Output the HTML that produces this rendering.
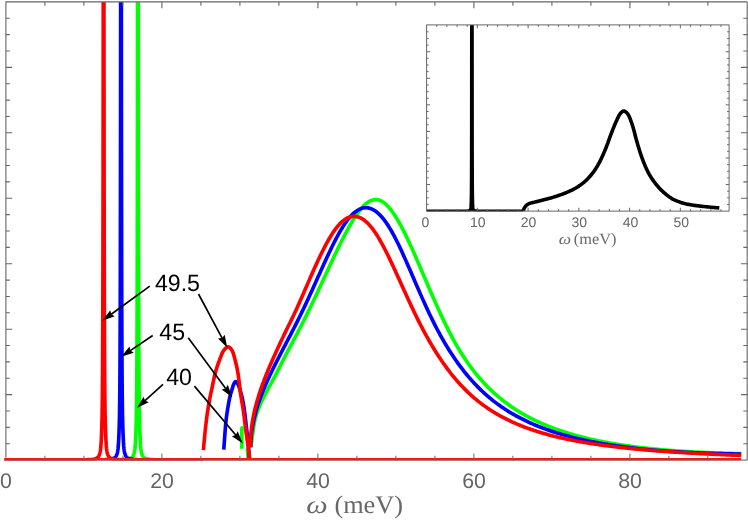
<!DOCTYPE html>
<html><head><meta charset="utf-8"><title>plot</title>
<style>
html,body{margin:0;padding:0;background:#ffffff;}
body{width:748px;height:524px;overflow:hidden;font-family:"Liberation Sans",sans-serif;}
#wrap{will-change:transform;width:748px;height:524px;}
svg{display:block;}
.t{filter:grayscale(1);}
</style></head>
<body>
<div id="wrap">
<svg width="748" height="524" viewBox="0 0 748 524" text-rendering="geometricPrecision">
<rect x="0" y="0" width="748" height="524" fill="#ffffff"/>
<defs><clipPath id="cm"><rect x="3.9" y="1.9" width="743.3" height="458.7"/></clipPath>
<clipPath id="cm2"><rect x="0" y="1.9" width="748" height="457.4"/></clipPath>
<clipPath id="ci"><rect x="426.6" y="24.9" width="302.6" height="186.6"/></clipPath></defs>
<g clip-path="url(#cm)" fill="none" stroke-width="3.65" stroke-linejoin="round" stroke-linecap="butt">
<path stroke="#00ff00" d="M121.9 459.63 L123.9 459.55 L125.9 459.41 L127.9 459.15 L129.9 458.63 L130.15 458.53 L130.4 458.43 L130.65 458.31 L130.9 458.17 L131.15 458.02 L131.4 457.86 L131.65 457.67 L131.9 457.45 L132.15 457.2 L132.4 456.93 L132.65 456.61 L132.9 456.25 L133.15 455.83 L133.4 455.34 L133.65 454.76 L133.9 454.07 L134.15 453.22 L134.4 452.15 L134.65 450.77 L134.9 448.95 L135.15 446.52 L135.4 443.25 L135.65 438.84 L135.9 432.93 L136.15 425.36 L136.4 415.23 L136.65 397.14 L136.7 392.01 L136.72 389.77 L136.74 387.41 L136.76 384.93 L136.78 382.32 L136.8 379.57 L136.82 376.68 L136.84 373.63 L136.86 370.41 L136.88 367.03 L136.9 363.46 L136.92 359.71 L136.94 355.75 L136.96 351.58 L136.98 347.19 L137 342.57 L137.02 337.71 L137.04 332.6 L137.06 327.23 L137.08 321.6 L137.1 315.7 L137.12 309.52 L137.14 303.08 L137.16 296.34 L137.18 289.19 L137.2 281.57 L137.22 273.45 L137.24 264.78 L137.26 255.51 L137.28 245.59 L137.3 234.96 L137.32 223.54 L137.34 211.27 L137.36 198.06 L137.38 183.81 L137.4 168.44 L137.42 151.81 L137.44 133.8 L137.46 114.26 L137.48 93.04 L137.5 69.96 L137.52 44.81 L137.54 17.39 L137.56 -15.9 L137.58 -20 L137.6 -20 L137.62 -20 L137.64 -20 L137.66 -20 L137.68 -20 L137.7 -20 L137.72 -20 L137.74 -20 L137.76 -20 L137.78 -20 L137.8 -20 L137.82 -20 L137.84 -20 L137.86 -20 L137.88 -20 L137.9 -20 L137.92 -20 L137.94 -20 L137.96 -20 L137.98 -20 L138 -20 L138.02 -20 L138.04 -20 L138.06 -20 L138.08 -20 L138.1 -20 L138.12 -20 L138.14 -20 L138.16 -20 L138.18 -20 L138.2 -20 L138.22 -20 L138.24 -15.9 L138.26 17.39 L138.28 44.81 L138.3 69.96 L138.32 93.04 L138.34 114.26 L138.36 133.8 L138.38 151.81 L138.4 168.44 L138.42 183.81 L138.44 198.06 L138.46 211.27 L138.48 223.54 L138.5 234.96 L138.52 245.59 L138.54 255.51 L138.56 264.78 L138.58 273.45 L138.6 281.57 L138.62 289.19 L138.64 296.34 L138.66 303.08 L138.68 309.52 L138.7 315.7 L138.72 321.6 L138.74 327.23 L138.76 332.6 L138.78 337.71 L138.8 342.57 L138.82 347.19 L138.84 351.58 L138.86 355.75 L138.88 359.71 L138.9 363.46 L138.92 367.03 L138.94 370.41 L138.96 373.63 L138.98 376.68 L139 379.57 L139.02 382.32 L139.04 384.93 L139.06 387.41 L139.08 389.77 L139.1 392.01 L139.35 412.41 L139.6 423.73 L139.85 431.54 L140.1 437.79 L140.35 442.47 L140.6 445.94 L140.85 448.52 L141.1 450.45 L141.35 451.9 L141.6 453.02 L141.85 453.91 L142.1 454.64 L142.35 455.24 L142.6 455.74 L142.85 456.17 L143.1 456.54 L143.35 456.87 L143.6 457.15 L143.85 457.4 L144.1 457.63 L144.35 457.82 L144.6 457.99 L144.85 458.14 L145.1 458.28 L145.35 458.4 L145.6 458.51 L145.85 458.61 L145.9 458.63 L147.9 459.15 L149.9 459.41 L151.9 459.55 L153.9 459.63" clip-path="url(#cm2)"/>
<path stroke="#00ff00" d="M241.85 448.8 L241.85 447.72 L241.85 446.64 L241.85 445.56 L241.85 444.48 L241.85 443.41 L241.85 442.33 L241.85 441.25 L241.85 440.17 L241.85 439.09 L241.85 438.01 L241.85 436.93 L241.85 435.85 L241.85 434.77 L241.86 433.69 L241.87 432.62 L241.87 431.54 L241.88 430.46 L241.89 429.38 L241.9 428.3"/>
<circle cx="241.95" cy="427.9" r="1.82" fill="#00ff00" stroke="none"/>
<path stroke="#00ff00" d="M247.3 448.5 L247.42 449.71 L247.53 450.92 L247.64 452.13 L247.75 453.34 L247.84 454.55 L247.94 455.76 L248.03 456.98 L248.12 458.19 L248.2 459.4"/>
<path stroke="#00ff00" d="M250.8 447.24 L250.89 446.73 L250.96 446.22 L251.04 445.71 L251.12 445.2 L251.19 444.69 L251.27 444.18 L251.34 443.67 L251.41 443.16 L251.48 442.66 L251.55 442.15 L251.62 441.65 L251.69 441.14 L251.75 440.64 L251.82 440.13 L251.89 439.63 L251.95 439.13 L252.02 438.63 L252.08 438.12 L252.15 437.62 L252.21 437.12 L252.28 436.63 L252.34 436.13 L252.4 435.63 L252.47 435.13 L252.53 434.63 L252.6 434.14 L252.67 433.64 L252.73 433.15 L252.8 432.65 L252.87 432.16 L252.93 431.67 L253 431.18 L253.07 430.68 L253.14 430.19 L253.22 429.7 L253.29 429.21 L253.36 428.72 L253.44 428.23 L253.51 427.75 L253.59 427.26 L253.67 426.77 L253.75 426.28 L253.84 425.8 L253.92 425.31 L254.01 424.83 L254.09 424.35 L254.18 423.86 L254.28 423.38 L254.37 422.9 L254.47 422.41 L254.56 421.93 L254.67 421.45 L254.77 420.97 L254.87 420.49 L254.98 420.01 L255.09 419.54 L255.21 419.06 L255.32 418.58 L255.44 418.1 L255.56 417.63 L255.69 417.15 L255.82 416.68 L255.95 416.2 L256.08 415.73 L256.22 415.25 L256.36 414.78 L256.51 414.31 L256.65 413.84 L256.8 413.37 L256.96 412.89 L257.11 412.42 L257.27 411.95 L257.43 411.48 L257.6 411.02 L257.77 410.55 L257.94 410.08 L258.11 409.61 L258.29 409.14 L258.46 408.68 L258.65 408.21 L258.83 407.75 L259.02 407.28 L259.2 406.82 L259.39 406.35 L259.59 405.89 L259.78 405.43 L259.98 404.96 L260.18 404.5 L260.38 404.04 L260.59 403.58 L260.79 403.12 L261 402.66 L261.21 402.2 L261.42 401.74 L261.64 401.28 L261.85 400.82 L262.07 400.37 L262.29 399.91 L262.51 399.45 L262.74 399 L262.96 398.54 L263.19 398.08 L263.41 397.63 L263.64 397.17 L263.87 396.72 L264.1 396.27 L264.34 395.81 L264.57 395.36 L264.8 394.91 L265.04 394.45 L265.28 394 L265.51 393.55 L265.75 393.1 L265.99 392.65 L266.23 392.2 L266.48 391.75 L266.72 391.3 L266.96 390.85 L267.2 390.4 L267.45 389.95 L267.69 389.5 L267.94 389.05 L268.18 388.61 L268.43 388.16 L268.67 387.71 L268.92 387.26 L269.17 386.82 L269.41 386.37 L269.66 385.92 L269.9 385.48 L270.15 385.03 L270.4 384.59 L270.64 384.14 L270.89 383.7 L271.13 383.25 L271.38 382.81 L271.62 382.37 L271.87 381.92 L272.11 381.48 L272.36 381.03 L272.6 380.59 L272.84 380.15 L273.08 379.71 L273.32 379.26 L273.56 378.82 L273.8 378.38 L274.04 377.94 L274.28 377.49 L274.51 377.05 L274.75 376.61 L274.98 376.17 L275.21 375.73 L275.45 375.29 L275.68 374.85 L275.91 374.41 L276.14 373.97 L276.37 373.53 L276.59 373.09 L276.82 372.64 L277.05 372.2 L277.27 371.76 L277.5 371.32 L277.72 370.88 L277.95 370.45 L278.17 370.01 L278.39 369.57 L278.61 369.13 L278.84 368.69 L279.06 368.25 L279.28 367.81 L279.5 367.37 L279.72 366.93 L279.94 366.49 L280.16 366.05 L280.38 365.61 L280.6 365.17 L280.82 364.73 L281.04 364.29 L281.26 363.85 L281.48 363.42 L281.7 362.98 L281.92 362.54 L282.14 362.1 L282.36 361.66 L282.58 361.22 L282.8 360.78 L283.02 360.34 L283.24 359.9 L283.46 359.46 L283.68 359.02 L283.9 358.58 L284.13 358.14 L284.35 357.7 L284.57 357.26 L284.8 356.82 L285 356.42 L286 354.49 L287 352.59 L288 350.7 L289 348.83 L290 346.95 L291 345.09 L292 343.22 L293 341.35 L294 339.47 L295 337.58 L296 335.68 L297 333.78 L298 331.86 L299 329.92 L300 327.98 L301 326.02 L302 324.05 L303 322.06 L304 320.07 L305 318.06 L306 316.07 L307 314.08 L308 312.07 L309 310.05 L310 308.01 L311 305.96 L312 303.89 L313 301.81 L314 299.72 L315 297.62 L316 295.5 L317 293.38 L318 291.24 L319 289.1 L320 286.95 L321 284.79 L322 282.63 L323 280.47 L324 278.3 L325 276.13 L326 273.96 L327 271.79 L328 269.63 L329 267.46 L330 265.31 L331 263.15 L332 261.01 L333 258.88 L334 256.75 L335 254.64 L336 252.54 L337 250.45 L338 248.38 L339 246.32 L340 244.29 L341 242.27 L342 240.27 L343 238.3 L344 236.35 L345 234.42 L346 232.52 L347 230.65 L348 228.81 L349 227 L350 225.23 L351 223.5 L352 221.8 L353 220.15 L354 218.55 L355 216.99 L356 215.48 L357 214.03 L358 212.63 L359 211.29 L360 210 L361 208.78 L362 207.63 L363 206.54 L364 205.53 L365 204.58 L366 203.71 L367 202.92 L368 202.2 L369 201.57 L370 201.02 L371 200.56 L372 200.18 L373 199.89 L374 199.69 L375 199.59 L376 199.58 L377 199.66 L378 199.84 L379 200.11 L380 200.47 L381 200.93 L382 201.47 L383 202.09 L384 202.81 L385 203.6 L386 204.48 L387 205.43 L388 206.46 L389 207.57 L390 208.75 L391 210 L392 211.32 L393 212.7 L394 214.15 L395 215.66 L396 217.23 L397 218.86 L398 220.54 L399 222.28 L400 224.06 L401 225.9 L402 227.77 L403 229.7 L404 231.66 L405 233.66 L406 235.7 L407 237.77 L408 239.87 L409 242.01 L410 244.17 L411 246.36 L412 248.57 L413 250.8 L414 253.05 L415 255.32 L416 257.6 L417 259.9 L418 262.21 L419 264.53 L420 266.85 L421 269.19 L422 271.52 L423 273.86 L424 276.2 L425 278.54 L426 280.88 L427 283.22 L428 285.55 L429 287.88 L430 290.19 L431 292.5 L432 294.8 L433 297.09 L434 299.37 L435 301.63 L436 303.88 L437 306.12 L438 308.34 L439 310.54 L440 312.72 L441 314.88 L442 317.02 L443 319.14 L444 321.23 L445 323.3 L446 325.35 L447 327.37 L448 329.36 L449 331.33 L450 333.27 L451 335.18 L452 337.07 L453 338.92 L454 340.74 L455 342.54 L456 344.3 L457 346.04 L458 347.74 L459 349.41 L460 351.06 L461 352.67 L462 354.26 L463 355.82 L464 357.35 L465 358.86 L466 360.33 L467 361.79 L468 363.21 L469 364.62 L470 366 L471 367.35 L472 368.68 L473 369.99 L474 371.28 L475 372.54 L476 373.79 L477 375.01 L478 376.21 L479 377.39 L480 378.55 L481 379.69 L482 380.82 L483 381.92 L484 383 L485 384.07 L486 385.12 L487 386.15 L488 387.17 L489 388.16 L490 389.14 L491 390.11 L492 391.06 L493 391.99 L494 392.91 L495 393.81 L496 394.7 L497 395.57 L498 396.43 L499 397.28 L500 398.11 L501 398.93 L502 399.74 L503 400.53 L504 401.31 L505 402.08 L506 402.83 L507 403.58 L508 404.31 L509 405.03 L510 405.74 L511 406.44 L512 407.13 L513 407.8 L514 408.47 L515 409.12 L516 409.77 L517 410.41 L518 411.03 L519 411.65 L520 412.26 L521 412.86 L522 413.45 L523 414.03 L524 414.6 L525 415.16 L526 415.72 L527 416.26 L528 416.8 L529 417.33 L530 417.86 L531 418.37 L532 418.88 L533 419.38 L534 419.87 L535 420.36 L536 420.84 L537 421.31 L538 421.78 L539 422.23 L540 422.69 L541 423.13 L542 423.57 L543 424 L544 424.43 L545 424.85 L546 425.27 L547 425.68 L548 426.08 L549 426.48 L550 426.87 L551 427.26 L552 427.64 L553 428.02 L554 428.39 L555 428.76 L556 429.12 L557 429.47 L558 429.83 L559 430.17 L560 430.52 L561 430.85 L562 431.19 L563 431.52 L564 431.84 L565 432.16 L566 432.48 L567 432.79 L568 433.1 L569 433.4 L570 433.7 L571 434 L572 434.29 L573 434.58 L574 434.86 L575 435.14 L576 435.42 L577 435.69 L578 435.97 L579 436.23 L580 436.5 L581 436.76 L582 437.01 L583 437.27 L584 437.52 L585 437.77 L586 438.01 L587 438.25 L588 438.49 L589 438.73 L590 438.96 L591 439.19 L592 439.41 L593 439.64 L594 439.86 L595 440.08 L596 440.29 L597 440.51 L598 440.72 L599 440.92 L600 441.13 L601 441.33 L602 441.53 L603 441.73 L604 441.92 L605 442.11 L606 442.3 L607 442.49 L608 442.67 L609 442.86 L610 443.04 L611 443.21 L612 443.39 L613 443.56 L614 443.73 L615 443.9 L616 444.07 L617 444.23 L618 444.39 L619 444.55 L620 444.71 L621 444.87 L622 445.02 L623 445.17 L624 445.32 L625 445.47 L626 445.61 L627 445.76 L628 445.9 L629 446.04 L630 446.18 L631 446.31 L632 446.45 L633 446.58 L634 446.71 L635 446.84 L636 446.97 L637 447.09 L638 447.21 L639 447.34 L640 447.46 L641 447.58 L642 447.69 L643 447.81 L644 447.92 L645 448.03 L646 448.14 L647 448.25 L648 448.36 L649 448.47 L650 448.57 L651 448.68 L652 448.78 L653 448.88 L654 448.98 L655 449.07 L656 449.17 L657 449.27 L658 449.36 L659 449.45 L660 449.54 L661 449.63 L662 449.72 L663 449.81 L664 449.89 L665 449.98 L666 450.06 L667 450.14 L668 450.22 L669 450.3 L670 450.38 L671 450.46 L672 450.54 L673 450.61 L674 450.69 L675 450.76 L676 450.83 L677 450.9 L678 450.97 L679 451.04 L680 451.11 L681 451.17 L682 451.24 L683 451.31 L684 451.37 L685 451.43 L686 451.49 L687 451.55 L688 451.61 L689 451.67 L690 451.73 L691 451.79 L692 451.84 L693 451.9 L694 451.95 L695 452.01 L696 452.06 L697 452.11 L698 452.16 L699 452.21 L700 452.26 L701 452.31 L702 452.36 L703 452.41 L704 452.45 L705 452.5 L706 452.54 L707 452.59 L708 452.63 L709 452.67 L710 452.71 L711 452.75 L712 452.79 L713 452.83 L714 452.87 L715 452.91 L716 452.95 L717 452.98 L718 453.02 L719 453.06 L720 453.09 L721 453.12 L722 453.16 L723 453.19 L724 453.22 L725 453.25 L726 453.28 L727 453.31 L728 453.34 L729 453.37 L730 453.4 L731 453.43 L732 453.45 L733 453.48 L734 453.5 L735 453.53 L736 453.55 L737 453.58 L738 453.6 L739 453.62 L740 453.64 L741 453.66 L741.2 453.67"/>
<path stroke="#0000ff" d="M105 459.63 L107 459.55 L109 459.41 L111 459.15 L113 458.63 L113.25 458.53 L113.5 458.43 L113.75 458.31 L114 458.17 L114.25 458.02 L114.5 457.86 L114.75 457.67 L115 457.45 L115.25 457.2 L115.5 456.93 L115.75 456.61 L116 456.25 L116.25 455.83 L116.5 455.34 L116.75 454.76 L117 454.07 L117.25 453.22 L117.5 452.15 L117.75 450.77 L118 448.95 L118.25 446.52 L118.5 443.25 L118.75 438.84 L119 432.93 L119.25 425.36 L119.5 415.23 L119.75 397.14 L119.8 392.01 L119.82 389.77 L119.84 387.41 L119.86 384.93 L119.88 382.32 L119.9 379.57 L119.92 376.68 L119.94 373.63 L119.96 370.41 L119.98 367.03 L120 363.46 L120.02 359.71 L120.04 355.75 L120.06 351.58 L120.08 347.19 L120.1 342.57 L120.12 337.71 L120.14 332.6 L120.16 327.23 L120.18 321.6 L120.2 315.7 L120.22 309.52 L120.24 303.08 L120.26 296.34 L120.28 289.19 L120.3 281.57 L120.32 273.45 L120.34 264.78 L120.36 255.51 L120.38 245.59 L120.4 234.96 L120.42 223.54 L120.44 211.27 L120.46 198.06 L120.48 183.81 L120.5 168.44 L120.52 151.81 L120.54 133.8 L120.56 114.26 L120.58 93.04 L120.6 69.96 L120.62 44.81 L120.64 17.39 L120.66 -15.9 L120.68 -20 L120.7 -20 L120.72 -20 L120.74 -20 L120.76 -20 L120.78 -20 L120.8 -20 L120.82 -20 L120.84 -20 L120.86 -20 L120.88 -20 L120.9 -20 L120.92 -20 L120.94 -20 L120.96 -20 L120.98 -20 L121 -20 L121.02 -20 L121.04 -20 L121.06 -20 L121.08 -20 L121.1 -20 L121.12 -20 L121.14 -20 L121.16 -20 L121.18 -20 L121.2 -20 L121.22 -20 L121.24 -20 L121.26 -20 L121.28 -20 L121.3 -20 L121.32 -20 L121.34 -15.9 L121.36 17.39 L121.38 44.81 L121.4 69.96 L121.42 93.04 L121.44 114.26 L121.46 133.8 L121.48 151.81 L121.5 168.44 L121.52 183.81 L121.54 198.06 L121.56 211.27 L121.58 223.54 L121.6 234.96 L121.62 245.59 L121.64 255.51 L121.66 264.78 L121.68 273.45 L121.7 281.57 L121.72 289.19 L121.74 296.34 L121.76 303.08 L121.78 309.52 L121.8 315.7 L121.82 321.6 L121.84 327.23 L121.86 332.6 L121.88 337.71 L121.9 342.57 L121.92 347.19 L121.94 351.58 L121.96 355.75 L121.98 359.71 L122 363.46 L122.02 367.03 L122.04 370.41 L122.06 373.63 L122.08 376.68 L122.1 379.57 L122.12 382.32 L122.14 384.93 L122.16 387.41 L122.18 389.77 L122.2 392.01 L122.2 392.01 L122.45 412.41 L122.7 423.73 L122.95 431.54 L123.2 437.79 L123.45 442.47 L123.7 445.94 L123.95 448.52 L124.2 450.45 L124.45 451.9 L124.7 453.02 L124.95 453.91 L125.2 454.64 L125.45 455.24 L125.7 455.74 L125.95 456.17 L126.2 456.54 L126.45 456.87 L126.7 457.15 L126.95 457.4 L127.2 457.63 L127.45 457.82 L127.7 457.99 L127.95 458.14 L128.2 458.28 L128.45 458.4 L128.7 458.51 L128.95 458.61 L129 458.63 L131 459.15 L133 459.41 L135 459.55 L137 459.63" clip-path="url(#cm2)"/>
<path stroke="#0000ff" d="M223.8 449.6 L223.86 448.59 L223.93 447.58 L224 446.58 L224.06 445.57 L224.13 444.56 L224.2 443.55 L224.27 442.55 L224.34 441.54 L224.41 440.53 L224.49 439.52 L224.56 438.52 L224.64 437.51 L224.71 436.5 L224.79 435.5 L224.86 434.49 L224.94 433.48 L225.01 432.47 L225.09 431.46 L225.17 430.46 L225.24 429.45 L225.33 428.44 L225.41 427.44 L225.49 426.43 L225.58 425.42 L225.67 424.42 L225.76 423.41 L225.86 422.41 L225.96 421.4 L226.07 420.4 L226.18 419.4 L226.29 418.4 L226.42 417.39 L226.55 416.39 L226.68 415.39 L226.82 414.39 L226.96 413.39 L227.11 412.39 L227.27 411.39 L227.43 410.39 L227.59 409.4 L227.75 408.4 L227.92 407.4 L228.09 406.41 L228.26 405.41 L228.43 404.41 L228.61 403.42 L228.78 402.43 L228.97 401.43 L229.16 400.44 L229.35 399.45 L229.56 398.46 L229.78 397.47 L230 396.49 L230.24 395.51 L230.5 394.54 L230.77 393.56 L231.06 392.59 L231.35 391.62 L231.65 390.66 L231.95 389.69 L232.24 388.73 L232.53 387.74 L232.81 386.75 L233.12 385.77 L233.45 384.82 L233.84 383.92 L234.33 382.99 L234.98 382 L235.67 381.5 L236.42 381.92 L237.15 382.83 L237.68 383.67 L238.13 384.53 L238.53 385.44 L238.89 386.4 L239.23 387.38 L239.54 388.37 L239.84 389.36 L240.13 390.35 L240.43 391.31 L240.72 392.28 L241.01 393.25 L241.28 394.22 L241.55 395.2 L241.81 396.18 L242.06 397.16 L242.29 398.14 L242.51 399.13 L242.72 400.11 L242.92 401.1 L243.1 402.09 L243.28 403.08 L243.44 404.08 L243.61 405.08 L243.76 406.08 L243.91 407.08 L244.06 408.08 L244.2 409.08 L244.34 410.08 L244.47 411.08 L244.61 412.08 L244.75 413.08 L244.88 414.08 L245 415.08 L245.13 416.09 L245.25 417.09 L245.37 418.09 L245.49 419.1 L245.61 420.1 L245.72 421.1 L245.84 422.11 L245.95 423.11 L246.06 424.11 L246.18 425.12 L246.29 426.12 L246.4 427.12 L246.51 428.13 L246.63 429.13 L246.74 430.14 L246.85 431.14 L246.97 432.14 L247.08 433.15 L247.19 434.15 L247.3 435.15 L247.41 436.16 L247.52 437.16 L247.62 438.17 L247.73 439.17 L247.83 440.18 L247.92 441.18 L248.02 442.19 L248.11 443.19 L248.2 444.2 L248.29 445.2 L248.38 446.21 L248.47 447.22 L248.55 448.22 L248.64 449.23 L248.72 450.23 L248.8 451.24 L248.89 452.25 L248.96 453.25 L249.04 454.26 L249.12 455.27 L249.19 456.28 L249.26 457.28 L249.33 458.29 L249.4 459.3"/>
<path stroke="#0000ff" d="M250.65 447.21 L250.66 446.7 L250.67 446.19 L250.68 445.68 L250.69 445.17 L250.71 444.66 L250.72 444.16 L250.74 443.65 L250.76 443.14 L250.79 442.64 L250.81 442.13 L250.84 441.62 L250.87 441.12 L250.9 440.62 L250.93 440.11 L250.97 439.61 L251.01 439.11 L251.04 438.6 L251.09 438.1 L251.13 437.6 L251.17 437.1 L251.22 436.6 L251.27 436.1 L251.32 435.6 L251.37 435.1 L251.42 434.6 L251.48 434.11 L251.54 433.61 L251.6 433.11 L251.66 432.61 L251.72 432.12 L251.79 431.62 L251.85 431.13 L251.92 430.63 L251.99 430.14 L252.06 429.65 L252.14 429.15 L252.21 428.66 L252.29 428.17 L252.37 427.68 L252.45 427.18 L252.53 426.69 L252.62 426.2 L252.7 425.71 L252.79 425.22 L252.88 424.73 L252.97 424.24 L253.06 423.75 L253.16 423.27 L253.25 422.78 L253.35 422.29 L253.45 421.81 L253.55 421.32 L253.65 420.83 L253.76 420.35 L253.86 419.86 L253.97 419.38 L254.08 418.89 L254.19 418.41 L254.3 417.93 L254.42 417.44 L254.53 416.96 L254.65 416.48 L254.77 415.99 L254.88 415.51 L255.01 415.03 L255.13 414.55 L255.25 414.07 L255.38 413.59 L255.51 413.11 L255.63 412.63 L255.76 412.15 L255.9 411.67 L256.03 411.2 L256.16 410.72 L256.3 410.24 L256.44 409.76 L256.58 409.29 L256.72 408.81 L256.86 408.33 L257 407.86 L257.14 407.38 L257.29 406.91 L257.44 406.43 L257.59 405.96 L257.73 405.49 L257.89 405.01 L258.04 404.54 L258.19 404.07 L258.35 403.59 L258.5 403.12 L258.66 402.65 L258.82 402.18 L258.98 401.71 L259.14 401.24 L259.3 400.77 L259.47 400.3 L259.63 399.83 L259.8 399.36 L259.97 398.89 L260.14 398.42 L260.31 397.95 L260.48 397.48 L260.65 397.01 L260.82 396.55 L261 396.08 L261.18 395.61 L261.35 395.14 L261.53 394.68 L261.71 394.21 L261.89 393.75 L262.07 393.28 L262.26 392.81 L262.44 392.35 L262.62 391.88 L262.81 391.42 L263 390.96 L263.18 390.49 L263.37 390.03 L263.56 389.57 L263.75 389.1 L263.95 388.64 L264.14 388.18 L264.33 387.71 L264.53 387.25 L264.72 386.79 L264.92 386.33 L265.12 385.87 L265.31 385.41 L265.51 384.95 L265.71 384.49 L265.91 384.03 L266.12 383.57 L266.32 383.11 L266.52 382.65 L266.72 382.19 L266.93 381.73 L267.14 381.27 L267.34 380.81 L267.55 380.35 L267.76 379.9 L267.97 379.44 L268.18 378.98 L268.39 378.52 L268.6 378.07 L268.81 377.61 L269.02 377.15 L269.23 376.7 L269.45 376.24 L269.66 375.78 L269.87 375.33 L270.09 374.87 L270.31 374.42 L270.52 373.96 L270.74 373.51 L270.96 373.05 L271.18 372.6 L271.39 372.14 L271.61 371.69 L271.83 371.23 L272.05 370.78 L272.28 370.33 L272.5 369.87 L272.72 369.42 L272.94 368.97 L273.16 368.51 L273.39 368.06 L273.61 367.61 L273.83 367.16 L274.06 366.7 L274.28 366.25 L274.51 365.8 L274.74 365.35 L274.96 364.9 L275.19 364.45 L275.41 363.99 L275.64 363.54 L275.87 363.09 L276.1 362.64 L276.32 362.19 L276.55 361.74 L276.78 361.29 L277.01 360.84 L277.24 360.39 L277.47 359.94 L277.7 359.49 L277.93 359.04 L278.16 358.59 L278.39 358.14 L278.62 357.69 L278.85 357.24 L279.08 356.79 L279.31 356.35 L279.54 355.9 L279.77 355.45 L280 355 L280.23 354.55 L280.46 354.1 L280.69 353.66 L280.93 353.21 L281.16 352.76 L281.39 352.31 L281.62 351.86 L281.85 351.42 L282.08 350.97 L282.31 350.52 L282.55 350.07 L282.78 349.63 L283.01 349.18 L283.24 348.73 L283.47 348.29 L283.7 347.84 L283.94 347.39 L284.17 346.95 L284.4 346.5 L284.63 346.05 L284.86 345.61 L285 345.34 L286 343.42 L287 341.51 L288 339.6 L289 337.69 L290 335.78 L291 333.85 L292 331.93 L293 329.99 L294 328.03 L295 326.07 L296 324.09 L297 322.09 L298 320.08 L299 318.05 L300 316.01 L301 313.95 L302 311.88 L303 309.8 L304 307.71 L305 305.6 L306 303.47 L307 301.32 L308 299.16 L309 296.99 L310 294.81 L311 292.62 L312 290.42 L313 288.22 L314 286.01 L315 283.79 L316 281.57 L317 279.34 L318 277.11 L319 274.89 L320 272.66 L321 270.44 L322 268.22 L323 266.01 L324 263.81 L325 261.62 L326 259.45 L327 257.29 L328 255.14 L329 253.02 L330 250.91 L331 248.84 L332 246.78 L333 244.76 L334 242.76 L335 240.8 L336 238.88 L337 236.99 L338 235.14 L339 233.34 L340 231.58 L341 229.87 L342 228.21 L343 226.6 L344 225.05 L345 223.55 L346 222.12 L347 220.75 L348 219.44 L349 218.19 L350 217.02 L351 215.9 L352 214.86 L353 213.88 L354 212.98 L355 212.14 L356 211.38 L357 210.68 L358 210.06 L359 209.51 L360 209.04 L361 208.64 L362 208.31 L363 208.05 L364 207.87 L365 207.77 L366 207.74 L367 207.79 L368 207.91 L369 208.1 L370 208.37 L371 208.71 L372 209.13 L373 209.62 L374 210.19 L375 210.82 L376 211.53 L377 212.31 L378 213.16 L379 214.09 L380 215.08 L381 216.14 L382 217.26 L383 218.46 L384 219.71 L385 221.04 L386 222.42 L387 223.87 L388 225.38 L389 226.95 L390 228.58 L391 230.26 L392 232 L393 233.8 L394 235.64 L395 237.54 L396 239.49 L397 241.47 L398 243.5 L399 245.57 L400 247.68 L401 249.81 L402 251.98 L403 254.17 L404 256.38 L405 258.62 L406 260.88 L407 263.15 L408 265.43 L409 267.73 L410 270.04 L411 272.35 L412 274.67 L413 276.98 L414 279.3 L415 281.62 L416 283.93 L417 286.24 L418 288.54 L419 290.83 L420 293.11 L421 295.38 L422 297.63 L423 299.87 L424 302.09 L425 304.29 L426 306.48 L427 308.64 L428 310.79 L429 312.91 L430 315.01 L431 317.08 L432 319.13 L433 321.15 L434 323.15 L435 325.12 L436 327.06 L437 328.98 L438 330.87 L439 332.73 L440 334.56 L441 336.37 L442 338.15 L443 339.91 L444 341.64 L445 343.34 L446 345.02 L447 346.68 L448 348.31 L449 349.91 L450 351.49 L451 353.05 L452 354.59 L453 356.1 L454 357.59 L455 359.05 L456 360.49 L457 361.92 L458 363.32 L459 364.69 L460 366.05 L461 367.39 L462 368.7 L463 369.99 L464 371.27 L465 372.52 L466 373.76 L467 374.97 L468 376.17 L469 377.35 L470 378.5 L471 379.64 L472 380.77 L473 381.87 L474 382.96 L475 384.03 L476 385.08 L477 386.11 L478 387.13 L479 388.13 L480 389.12 L481 390.09 L482 391.04 L483 391.98 L484 392.9 L485 393.81 L486 394.7 L487 395.58 L488 396.44 L489 397.29 L490 398.13 L491 398.95 L492 399.76 L493 400.56 L494 401.34 L495 402.11 L496 402.87 L497 403.62 L498 404.35 L499 405.08 L500 405.79 L501 406.49 L502 407.18 L503 407.86 L504 408.53 L505 409.19 L506 409.84 L507 410.48 L508 411.11 L509 411.73 L510 412.34 L511 412.94 L512 413.53 L513 414.11 L514 414.69 L515 415.25 L516 415.81 L517 416.36 L518 416.9 L519 417.43 L520 417.96 L521 418.48 L522 418.99 L523 419.49 L524 419.98 L525 420.47 L526 420.95 L527 421.42 L528 421.89 L529 422.35 L530 422.81 L531 423.25 L532 423.69 L533 424.13 L534 424.56 L535 424.98 L536 425.4 L537 425.81 L538 426.21 L539 426.61 L540 427 L541 427.39 L542 427.78 L543 428.15 L544 428.53 L545 428.89 L546 429.26 L547 429.61 L548 429.97 L549 430.31 L550 430.66 L551 430.99 L552 431.33 L553 431.66 L554 431.98 L555 432.3 L556 432.62 L557 432.93 L558 433.24 L559 433.55 L560 433.85 L561 434.14 L562 434.44 L563 434.72 L564 435.01 L565 435.29 L566 435.57 L567 435.84 L568 436.11 L569 436.38 L570 436.64 L571 436.91 L572 437.16 L573 437.42 L574 437.67 L575 437.92 L576 438.16 L577 438.4 L578 438.64 L579 438.88 L580 439.11 L581 439.34 L582 439.56 L583 439.79 L584 440.01 L585 440.23 L586 440.45 L587 440.66 L588 440.87 L589 441.08 L590 441.28 L591 441.49 L592 441.69 L593 441.89 L594 442.08 L595 442.28 L596 442.47 L597 442.66 L598 442.84 L599 443.03 L600 443.21 L601 443.39 L602 443.56 L603 443.74 L604 443.91 L605 444.08 L606 444.25 L607 444.41 L608 444.58 L609 444.74 L610 444.9 L611 445.06 L612 445.21 L613 445.36 L614 445.52 L615 445.67 L616 445.81 L617 445.96 L618 446.1 L619 446.24 L620 446.38 L621 446.52 L622 446.66 L623 446.79 L624 446.92 L625 447.05 L626 447.18 L627 447.31 L628 447.43 L629 447.56 L630 447.68 L631 447.8 L632 447.92 L633 448.03 L634 448.15 L635 448.26 L636 448.38 L637 448.49 L638 448.6 L639 448.7 L640 448.81 L641 448.91 L642 449.02 L643 449.12 L644 449.22 L645 449.32 L646 449.41 L647 449.51 L648 449.6 L649 449.7 L650 449.79 L651 449.88 L652 449.97 L653 450.06 L654 450.14 L655 450.23 L656 450.31 L657 450.4 L658 450.48 L659 450.56 L660 450.64 L661 450.72 L662 450.79 L663 450.87 L664 450.94 L665 451.02 L666 451.09 L667 451.16 L668 451.23 L669 451.3 L670 451.37 L671 451.43 L672 451.5 L673 451.57 L674 451.63 L675 451.69 L676 451.75 L677 451.81 L678 451.87 L679 451.93 L680 451.99 L681 452.05 L682 452.1 L683 452.16 L684 452.21 L685 452.27 L686 452.32 L687 452.37 L688 452.42 L689 452.47 L690 452.52 L691 452.57 L692 452.62 L693 452.66 L694 452.71 L695 452.75 L696 452.8 L697 452.84 L698 452.88 L699 452.92 L700 452.97 L701 453.01 L702 453.04 L703 453.08 L704 453.12 L705 453.16 L706 453.19 L707 453.23 L708 453.26 L709 453.3 L710 453.33 L711 453.36 L712 453.4 L713 453.43 L714 453.46 L715 453.49 L716 453.52 L717 453.55 L718 453.57 L719 453.6 L720 453.63 L721 453.65 L722 453.68 L723 453.7 L724 453.73 L725 453.75 L726 453.77 L727 453.79 L728 453.82 L729 453.84 L730 453.86 L731 453.88 L732 453.9 L733 453.91 L734 453.93 L735 453.95 L736 453.96 L737 453.98 L738 453.99 L739 454.01 L740 454.02 L741 454.04 L741.2 454.04"/>
<path stroke="#ff0000" d="M4.4 459.75 L6.4 459.75 L8.4 459.75 L10.4 459.75 L12.4 459.75 L14.4 459.75 L16.4 459.75 L18.4 459.75 L20.4 459.75 L22.4 459.75 L24.4 459.75 L26.4 459.75 L28.4 459.75 L30.4 459.75 L32.4 459.75 L34.4 459.75 L36.4 459.75 L38.4 459.75 L40.4 459.75 L42.4 459.75 L44.4 459.75 L46.4 459.75 L48.4 459.75 L50.4 459.75 L52.4 459.75 L54.4 459.75 L56.4 459.75 L58.4 459.75 L60.4 459.75 L62.4 459.75 L64.4 459.75 L66.4 459.75 L68.4 459.75 L70.4 459.75 L72.4 459.75 L74.4 459.75 L76.4 459.75 L78.4 459.75 L80.4 459.75 L82.4 459.75 L84.4 459.75 L86.4 459.75 L88.4 459.6 L90.4 459.51 L92.4 459.33 L94.4 458.99 L95.6 458.63 L95.85 458.53 L96.1 458.43 L96.35 458.31 L96.6 458.17 L96.85 458.02 L97.1 457.86 L97.35 457.67 L97.6 457.45 L97.85 457.2 L98.1 456.93 L98.35 456.61 L98.6 456.25 L98.85 455.83 L99.1 455.34 L99.35 454.76 L99.6 454.07 L99.85 453.22 L100.1 452.15 L100.35 450.77 L100.6 448.95 L100.85 446.52 L101.1 443.25 L101.35 438.84 L101.6 432.93 L101.85 425.36 L102.1 415.23 L102.35 397.14 L102.4 392.01 L102.42 389.77 L102.44 387.41 L102.46 384.93 L102.48 382.32 L102.5 379.57 L102.52 376.68 L102.54 373.63 L102.56 370.41 L102.58 367.03 L102.6 363.46 L102.62 359.71 L102.64 355.75 L102.66 351.58 L102.68 347.19 L102.7 342.57 L102.72 337.71 L102.74 332.6 L102.76 327.23 L102.78 321.6 L102.8 315.7 L102.82 309.52 L102.84 303.08 L102.86 296.34 L102.88 289.19 L102.9 281.57 L102.92 273.45 L102.94 264.78 L102.96 255.51 L102.98 245.59 L103 234.96 L103.02 223.54 L103.04 211.27 L103.06 198.06 L103.08 183.81 L103.1 168.44 L103.12 151.81 L103.14 133.8 L103.16 114.26 L103.18 93.04 L103.2 69.96 L103.22 44.81 L103.24 17.39 L103.26 -15.9 L103.28 -20 L103.3 -20 L103.32 -20 L103.34 -20 L103.36 -20 L103.38 -20 L103.4 -20 L103.42 -20 L103.44 -20 L103.46 -20 L103.48 -20 L103.5 -20 L103.52 -20 L103.54 -20 L103.56 -20 L103.58 -20 L103.6 -20 L103.62 -20 L103.64 -20 L103.66 -20 L103.68 -20 L103.7 -20 L103.72 -20 L103.74 -20 L103.76 -20 L103.78 -20 L103.8 -20 L103.82 -20 L103.84 -20 L103.86 -20 L103.88 -20 L103.9 -20 L103.92 -20 L103.94 -15.9 L103.96 17.39 L103.98 44.81 L104 69.96 L104.02 93.04 L104.04 114.26 L104.06 133.8 L104.08 151.81 L104.1 168.44 L104.12 183.81 L104.14 198.06 L104.16 211.27 L104.18 223.54 L104.2 234.96 L104.22 245.59 L104.24 255.51 L104.26 264.78 L104.28 273.45 L104.3 281.57 L104.32 289.19 L104.34 296.34 L104.36 303.08 L104.38 309.52 L104.4 315.7 L104.42 321.6 L104.44 327.23 L104.46 332.6 L104.48 337.71 L104.5 342.57 L104.52 347.19 L104.54 351.58 L104.56 355.75 L104.58 359.71 L104.6 363.46 L104.62 367.03 L104.64 370.41 L104.66 373.63 L104.68 376.68 L104.7 379.57 L104.72 382.32 L104.74 384.93 L104.76 387.41 L104.78 389.77 L104.8 392.01 L104.8 392.01 L105.05 412.41 L105.3 423.73 L105.55 431.54 L105.8 437.79 L106.05 442.47 L106.3 445.94 L106.55 448.52 L106.8 450.45 L107.05 451.9 L107.3 453.02 L107.55 453.91 L107.8 454.64 L108.05 455.24 L108.3 455.74 L108.55 456.17 L108.8 456.54 L109.05 456.87 L109.3 457.15 L109.55 457.4 L109.8 457.63 L110.05 457.82 L110.3 457.99 L110.55 458.14 L110.8 458.28 L111.05 458.4 L111.3 458.51 L111.55 458.61 L111.6 458.63 L113.6 459.15 L115.6 459.41 L117.6 459.55 L119.6 459.63 L121.6 459.75 L123.6 459.75 L125.6 459.75 L127.6 459.75 L129.6 459.75 L131.6 459.75 L133.6 459.75 L135.6 459.75 L137.6 459.75 L139.6 459.75 L141.6 459.75 L143.6 459.75 L145.6 459.75 L147.6 459.75 L149.6 459.75 L151.6 459.75 L153.6 459.75 L155.6 459.75 L157.6 459.75 L159.6 459.75 L161.6 459.75 L163.6 459.75 L165.6 459.75 L167.6 459.75 L169.6 459.75 L171.6 459.75 L173.6 459.75 L175.6 459.75 L177.6 459.75 L179.6 459.75 L181.6 459.75 L183.6 459.75 L185.6 459.75 L187.6 459.75 L189.6 459.75 L191.6 459.75 L193.6 459.75 L195.6 459.75 L197.6 459.75 L199.6 459.75 L201.6 459.75 L203.2 459.75"/>
<path stroke="#ff0000" d="M203.4 450.2 L203.48 449.2 L203.57 448.19 L203.65 447.19 L203.74 446.18 L203.83 445.18 L203.92 444.17 L204.01 443.17 L204.1 442.16 L204.19 441.16 L204.29 440.16 L204.38 439.15 L204.48 438.15 L204.57 437.15 L204.67 436.14 L204.77 435.14 L204.86 434.13 L204.96 433.13 L205.06 432.13 L205.16 431.12 L205.27 430.12 L205.37 429.12 L205.48 428.11 L205.58 427.11 L205.69 426.11 L205.81 425.11 L205.92 424.11 L206.04 423.1 L206.15 422.1 L206.28 421.1 L206.4 420.1 L206.53 419.1 L206.66 418.11 L206.79 417.11 L206.93 416.11 L207.07 415.11 L207.21 414.11 L207.36 413.11 L207.5 412.11 L207.66 411.12 L207.81 410.12 L207.97 409.12 L208.13 408.13 L208.29 407.13 L208.45 406.14 L208.62 405.14 L208.79 404.15 L208.96 403.15 L209.13 402.16 L209.3 401.17 L209.48 400.18 L209.66 399.18 L209.84 398.19 L210.03 397.2 L210.23 396.22 L210.43 395.23 L210.64 394.24 L210.84 393.25 L211.06 392.27 L211.27 391.28 L211.48 390.3 L211.7 389.31 L211.91 388.33 L212.13 387.34 L212.34 386.35 L212.55 385.37 L212.75 384.38 L212.96 383.39 L213.16 382.4 L213.37 381.41 L213.58 380.42 L213.79 379.44 L214 378.45 L214.22 377.47 L214.44 376.48 L214.67 375.5 L214.9 374.52 L215.15 373.55 L215.4 372.57 L215.66 371.6 L215.93 370.64 L216.22 369.67 L216.51 368.7 L216.81 367.74 L217.12 366.78 L217.43 365.82 L217.76 364.86 L218.09 363.9 L218.43 362.95 L218.78 362 L219.13 361.06 L219.48 360.12 L219.85 359.18 L220.21 358.23 L220.57 357.26 L220.93 356.28 L221.3 355.3 L221.69 354.33 L222.1 353.39 L222.54 352.47 L223 351.6 L223.51 350.79 L224.06 350.03 L224.72 349.23 L225.5 348.4 L226.36 347.65 L227.22 347.08 L228.04 346.81 L228.83 346.95 L229.65 347.47 L230.46 348.26 L231.19 349.17 L231.81 350.08 L232.27 350.89 L232.67 351.76 L233.03 352.67 L233.36 353.62 L233.66 354.61 L233.95 355.61 L234.21 356.63 L234.47 357.64 L234.72 358.64 L234.98 359.61 L235.24 360.59 L235.5 361.56 L235.74 362.54 L235.99 363.52 L236.22 364.5 L236.45 365.49 L236.67 366.47 L236.89 367.46 L237.09 368.45 L237.29 369.44 L237.48 370.42 L237.66 371.42 L237.83 372.41 L238 373.4 L238.15 374.39 L238.3 375.39 L238.44 376.38 L238.58 377.38 L238.71 378.38 L238.84 379.38 L238.97 380.38 L239.09 381.38 L239.21 382.39 L239.33 383.39 L239.44 384.39 L239.56 385.39 L239.68 386.4 L239.79 387.4 L239.91 388.4 L240.04 389.4 L240.16 390.4 L240.29 391.41 L240.42 392.4 L240.56 393.4 L240.7 394.4 L240.85 395.4 L241 396.39 L241.16 397.39 L241.32 398.39 L241.49 399.38 L241.66 400.37 L241.83 401.37 L242 402.36 L242.17 403.36 L242.34 404.35 L242.51 405.34 L242.68 406.34 L242.84 407.33 L243 408.33 L243.15 409.33 L243.3 410.32 L243.44 411.32 L243.58 412.32 L243.72 413.32 L243.84 414.32 L243.97 415.32 L244.1 416.32 L244.22 417.32 L244.34 418.32 L244.46 419.32 L244.57 420.32 L244.69 421.32 L244.81 422.33 L244.93 423.33 L245.05 424.33 L245.17 425.33 L245.3 426.33 L245.42 427.33 L245.55 428.33 L245.68 429.33 L245.82 430.33 L245.96 431.33 L246.1 432.33 L246.24 433.32 L246.38 434.32 L246.53 435.32 L246.67 436.32 L246.82 437.31 L246.96 438.31 L247.11 439.31 L247.25 440.31 L247.4 441.31 L247.54 442.3 L247.68 443.3 L247.82 444.3 L247.96 445.3 L248.09 446.3 L248.22 447.3 L248.36 448.3 L248.49 449.3 L248.62 450.3 L248.75 451.3 L248.88 452.3 L249 453.3 L249.13 454.3 L249.26 455.3 L249.38 456.3 L249.5 457.3 L249.63 458.3 L249.75 459.3"/>
<path stroke="#ff0000" d="M250.47 447.28 L250.47 446.76 L250.46 446.25 L250.46 445.74 L250.46 445.23 L250.46 444.72 L250.46 444.21 L250.47 443.7 L250.48 443.19 L250.48 442.68 L250.5 442.17 L250.51 441.67 L250.52 441.16 L250.54 440.65 L250.56 440.15 L250.58 439.64 L250.6 439.13 L250.62 438.63 L250.65 438.12 L250.67 437.62 L250.7 437.11 L250.73 436.61 L250.77 436.11 L250.8 435.6 L250.84 435.1 L250.87 434.6 L250.91 434.1 L250.95 433.59 L251 433.09 L251.04 432.59 L251.09 432.09 L251.14 431.59 L251.19 431.09 L251.24 430.59 L251.29 430.09 L251.34 429.6 L251.4 429.1 L251.46 428.6 L251.52 428.1 L251.58 427.6 L251.64 427.11 L251.71 426.61 L251.77 426.12 L251.84 425.62 L251.91 425.12 L251.98 424.63 L252.05 424.14 L252.12 423.64 L252.2 423.15 L252.28 422.65 L252.35 422.16 L252.43 421.67 L252.52 421.18 L252.6 420.68 L252.68 420.19 L252.77 419.7 L252.86 419.21 L252.94 418.72 L253.03 418.23 L253.13 417.74 L253.22 417.25 L253.31 416.76 L253.41 416.27 L253.51 415.78 L253.61 415.29 L253.71 414.81 L253.81 414.32 L253.91 413.83 L254.01 413.34 L254.12 412.86 L254.23 412.37 L254.33 411.89 L254.44 411.4 L254.55 410.91 L254.67 410.43 L254.78 409.95 L254.9 409.46 L255.01 408.98 L255.13 408.49 L255.25 408.01 L255.37 407.53 L255.49 407.04 L255.61 406.56 L255.73 406.08 L255.86 405.6 L255.99 405.11 L256.11 404.63 L256.24 404.15 L256.37 403.67 L256.5 403.19 L256.63 402.71 L256.77 402.23 L256.9 401.75 L257.04 401.27 L257.17 400.79 L257.31 400.31 L257.45 399.84 L257.59 399.36 L257.73 398.88 L257.87 398.4 L258.02 397.93 L258.16 397.45 L258.31 396.97 L258.45 396.5 L258.6 396.02 L258.75 395.54 L258.9 395.07 L259.05 394.59 L259.2 394.12 L259.35 393.64 L259.51 393.17 L259.66 392.69 L259.82 392.22 L259.97 391.75 L260.13 391.27 L260.29 390.8 L260.45 390.33 L260.61 389.85 L260.77 389.38 L260.93 388.91 L261.1 388.44 L261.26 387.96 L261.43 387.49 L261.59 387.02 L261.76 386.55 L261.93 386.08 L262.1 385.61 L262.26 385.14 L262.44 384.67 L262.61 384.2 L262.78 383.73 L262.95 383.26 L263.12 382.79 L263.3 382.32 L263.47 381.85 L263.65 381.38 L263.83 380.92 L264 380.45 L264.18 379.98 L264.36 379.51 L264.54 379.05 L264.72 378.58 L264.9 378.11 L265.08 377.65 L265.27 377.18 L265.45 376.71 L265.63 376.25 L265.82 375.78 L266 375.31 L266.19 374.85 L266.38 374.38 L266.56 373.92 L266.75 373.45 L266.94 372.99 L267.13 372.53 L267.32 372.06 L267.51 371.6 L267.7 371.13 L267.89 370.67 L268.08 370.21 L268.28 369.74 L268.47 369.28 L268.66 368.82 L268.86 368.35 L269.05 367.89 L269.25 367.43 L269.44 366.97 L269.64 366.5 L269.84 366.04 L270.03 365.58 L270.23 365.12 L270.43 364.66 L270.63 364.2 L270.83 363.74 L271.03 363.28 L271.23 362.82 L271.43 362.35 L271.63 361.89 L271.83 361.43 L272.03 360.97 L272.23 360.51 L272.44 360.05 L272.64 359.6 L272.84 359.14 L273.05 358.68 L273.25 358.22 L273.46 357.76 L273.66 357.3 L273.87 356.84 L274.07 356.38 L274.28 355.93 L274.48 355.47 L274.69 355.01 L274.89 354.55 L275.1 354.09 L275.31 353.64 L275.52 353.18 L275.72 352.72 L275.93 352.26 L276.14 351.81 L276.35 351.35 L276.56 350.89 L276.77 350.44 L276.97 349.98 L277.18 349.52 L277.39 349.07 L277.6 348.61 L277.81 348.15 L278.02 347.7 L278.23 347.24 L278.44 346.79 L278.66 346.33 L278.87 345.88 L279.08 345.42 L279.29 344.97 L279.5 344.51 L279.71 344.06 L279.93 343.6 L280.14 343.15 L280.35 342.69 L280.56 342.24 L280.78 341.78 L280.99 341.33 L281.2 340.87 L281.41 340.42 L281.63 339.96 L281.84 339.51 L282.06 339.06 L282.27 338.6 L282.48 338.15 L282.7 337.7 L282.91 337.24 L283.13 336.79 L283.34 336.33 L283.56 335.88 L283.77 335.43 L283.99 334.97 L284.2 334.52 L284.42 334.07 L284.63 333.62 L284.85 333.16 L285 332.84 L286 330.82 L287 328.8 L288 326.78 L289 324.75 L290 322.72 L291 320.67 L292 318.61 L293 316.54 L294 314.44 L295 312.32 L296 310.18 L297 308.01 L298 305.82 L299 303.6 L300 301.36 L301 299.09 L302 296.8 L303 294.49 L304 292.16 L305 289.81 L306 287.51 L307 285.2 L308 282.9 L309 280.61 L310 278.32 L311 276.05 L312 273.78 L313 271.53 L314 269.29 L315 267.08 L316 264.88 L317 262.7 L318 260.54 L319 258.41 L320 256.31 L321 254.24 L322 252.2 L323 250.2 L324 248.23 L325 246.3 L326 244.42 L327 242.57 L328 240.78 L329 239.03 L330 237.33 L331 235.69 L332 234.1 L333 232.57 L334 231.11 L335 229.7 L336 228.36 L337 227.08 L338 225.87 L339 224.73 L340 223.66 L341 222.66 L342 221.73 L343 220.87 L344 220.09 L345 219.37 L346 218.73 L347 218.17 L348 217.68 L349 217.26 L350 216.92 L351 216.65 L352 216.46 L353 216.35 L354 216.31 L355 216.35 L356 216.46 L357 216.64 L358 216.91 L359 217.24 L360 217.65 L361 218.14 L362 218.7 L363 219.33 L364 220.03 L365 220.8 L366 221.65 L367 222.56 L368 223.54 L369 224.6 L370 225.71 L371 226.89 L372 228.14 L373 229.45 L374 230.82 L375 232.26 L376 233.75 L377 235.3 L378 236.9 L379 238.56 L380 240.28 L381 242.04 L382 243.84 L383 245.69 L384 247.59 L385 249.51 L386 251.48 L387 253.48 L388 255.5 L389 257.56 L390 259.64 L391 261.74 L392 263.87 L393 266.01 L394 268.17 L395 270.34 L396 272.52 L397 274.71 L398 276.91 L399 279.12 L400 281.33 L401 283.54 L402 285.75 L403 287.95 L404 290.16 L405 292.36 L406 294.55 L407 296.73 L408 298.91 L409 301.07 L410 303.22 L411 305.36 L412 307.48 L413 309.59 L414 311.68 L415 313.75 L416 315.8 L417 317.83 L418 319.85 L419 321.84 L420 323.81 L421 325.75 L422 327.67 L423 329.57 L424 331.45 L425 333.3 L426 335.13 L427 336.94 L428 338.72 L429 340.48 L430 342.22 L431 343.93 L432 345.62 L433 347.29 L434 348.94 L435 350.56 L436 352.16 L437 353.74 L438 355.29 L439 356.83 L440 358.34 L441 359.83 L442 361.29 L443 362.74 L444 364.16 L445 365.56 L446 366.94 L447 368.3 L448 369.64 L449 370.96 L450 372.26 L451 373.54 L452 374.79 L453 376.03 L454 377.25 L455 378.45 L456 379.63 L457 380.79 L458 381.93 L459 383.05 L460 384.15 L461 385.24 L462 386.3 L463 387.35 L464 388.38 L465 389.4 L466 390.39 L467 391.37 L468 392.33 L469 393.28 L470 394.21 L471 395.12 L472 396.02 L473 396.9 L474 397.76 L475 398.61 L476 399.45 L477 400.27 L478 401.08 L479 401.87 L480 402.65 L481 403.42 L482 404.17 L483 404.92 L484 405.64 L485 406.36 L486 407.07 L487 407.76 L488 408.44 L489 409.11 L490 409.77 L491 410.42 L492 411.05 L493 411.68 L494 412.3 L495 412.9 L496 413.5 L497 414.09 L498 414.67 L499 415.23 L500 415.79 L501 416.34 L502 416.88 L503 417.42 L504 417.94 L505 418.46 L506 418.97 L507 419.47 L508 419.96 L509 420.44 L510 420.92 L511 421.39 L512 421.85 L513 422.31 L514 422.76 L515 423.2 L516 423.63 L517 424.06 L518 424.48 L519 424.9 L520 425.31 L521 425.71 L522 426.11 L523 426.5 L524 426.88 L525 427.26 L526 427.64 L527 428 L528 428.37 L529 428.73 L530 429.08 L531 429.43 L532 429.77 L533 430.1 L534 430.44 L535 430.77 L536 431.09 L537 431.41 L538 431.72 L539 432.03 L540 432.34 L541 432.64 L542 432.93 L543 433.22 L544 433.51 L545 433.8 L546 434.08 L547 434.35 L548 434.63 L549 434.9 L550 435.16 L551 435.42 L552 435.68 L553 435.94 L554 436.19 L555 436.44 L556 436.68 L557 436.92 L558 437.16 L559 437.39 L560 437.63 L561 437.85 L562 438.08 L563 438.3 L564 438.52 L565 438.74 L566 438.95 L567 439.17 L568 439.37 L569 439.58 L570 439.78 L571 439.98 L572 440.18 L573 440.38 L574 440.57 L575 440.76 L576 440.95 L577 441.14 L578 441.32 L579 441.5 L580 441.68 L581 441.86 L582 442.03 L583 442.21 L584 442.38 L585 442.55 L586 442.71 L587 442.88 L588 443.04 L589 443.2 L590 443.36 L591 443.52 L592 443.67 L593 443.82 L594 443.98 L595 444.12 L596 444.27 L597 444.42 L598 444.56 L599 444.71 L600 444.85 L601 444.99 L602 445.12 L603 445.26 L604 445.39 L605 445.53 L606 445.66 L607 445.79 L608 445.92 L609 446.05 L610 446.17 L611 446.3 L612 446.42 L613 446.54 L614 446.66 L615 446.78 L616 446.9 L617 447.01 L618 447.13 L619 447.24 L620 447.36 L621 447.47 L622 447.58 L623 447.69 L624 447.8 L625 447.9 L626 448.01 L627 448.11 L628 448.22 L629 448.32 L630 448.42 L631 448.52 L632 448.62 L633 448.72 L634 448.82 L635 448.91 L636 449.01 L637 449.1 L638 449.2 L639 449.29 L640 449.38 L641 449.47 L642 449.56 L643 449.65 L644 449.74 L645 449.83 L646 449.91 L647 450 L648 450.08 L649 450.17 L650 450.25 L651 450.33 L652 450.41 L653 450.49 L654 450.57 L655 450.65 L656 450.73 L657 450.81 L658 450.89 L659 450.96 L660 451.04 L661 451.11 L662 451.19 L663 451.26 L664 451.33 L665 451.4 L666 451.48 L667 451.55 L668 451.62 L669 451.69 L670 451.76 L671 451.82 L672 451.89 L673 451.96 L674 452.02 L675 452.09 L676 452.16 L677 452.22 L678 452.29 L679 452.35 L680 452.41 L681 452.47 L682 452.54 L683 452.6 L684 452.66 L685 452.72 L686 452.78 L687 452.84 L688 452.9 L689 452.96 L690 453.01 L691 453.07 L692 453.13 L693 453.18 L694 453.24 L695 453.3 L696 453.35 L697 453.41 L698 453.46 L699 453.51 L700 453.57 L701 453.62 L702 453.67 L703 453.72 L704 453.78 L705 453.83 L706 453.88 L707 453.93 L708 453.98 L709 454.03 L710 454.08 L711 454.13 L712 454.17 L713 454.22 L714 454.27 L715 454.32 L716 454.36 L717 454.41 L718 454.46 L719 454.5 L720 454.55 L721 454.59 L722 454.64 L723 454.68 L724 454.73 L725 454.77 L726 454.81 L727 454.86 L728 454.9 L729 454.94 L730 454.98 L731 455.02 L732 455.07 L733 455.11 L734 455.15 L735 455.19 L736 455.23 L737 455.27 L738 455.31 L739 455.35 L740 455.39 L741 455.43 L741.2 455.43"/>
<path stroke="#f01818" stroke-width="3.65" d="M4.4 459.75 L741.2 459.75"/>
</g>
<g stroke="#666666" stroke-width="1.1" fill="none" stroke-linecap="butt">
<path d="M5.9 457.7 L5.9 1.9 L747.2 1.9"/>
<path d="M741.2 460.1 L747.2 460.1"/>
<path d="M4.4 460.1 L741.2 460.1" opacity="0.55"/>
<path d="M747.2 1.9 L747.2 460.1"/>
<path d="M44.9 1.9 v3.9 M83.9 1.9 v3.9 M122.9 1.9 v3.9 M161.9 1.9 v6.3 M200.9 1.9 v3.9 M239.9 1.9 v3.9 M278.9 1.9 v3.9 M317.9 1.9 v6.3 M356.9 1.9 v3.9 M395.9 1.9 v3.9 M434.9 1.9 v3.9 M473.9 1.9 v6.3 M512.9 1.9 v3.9 M551.9 1.9 v3.9 M590.9 1.9 v3.9 M629.9 1.9 v6.3 M668.9 1.9 v3.9 M707.9 1.9 v3.9 M5.9 443.74 h3.9 M747.2 443.74 h-3.9 M5.9 427.37 h3.9 M747.2 427.37 h-3.9 M5.9 411.01 h3.9 M747.2 411.01 h-3.9 M5.9 394.64 h6.3 M747.2 394.64 h-6.3 M5.9 378.28 h3.9 M747.2 378.28 h-3.9 M5.9 361.91 h3.9 M747.2 361.91 h-3.9 M5.9 345.55 h3.9 M747.2 345.55 h-3.9 M5.9 329.19 h6.3 M747.2 329.19 h-6.3 M5.9 312.82 h3.9 M747.2 312.82 h-3.9 M5.9 296.46 h3.9 M747.2 296.46 h-3.9 M5.9 280.09 h3.9 M747.2 280.09 h-3.9 M5.9 263.73 h6.3 M747.2 263.73 h-6.3 M5.9 247.36 h3.9 M747.2 247.36 h-3.9 M5.9 231 h3.9 M747.2 231 h-3.9 M5.9 214.64 h3.9 M747.2 214.64 h-3.9 M5.9 198.27 h6.3 M747.2 198.27 h-6.3 M5.9 181.91 h3.9 M747.2 181.91 h-3.9 M5.9 165.54 h3.9 M747.2 165.54 h-3.9 M5.9 149.18 h3.9 M747.2 149.18 h-3.9 M5.9 132.81 h6.3 M747.2 132.81 h-6.3 M5.9 116.45 h3.9 M747.2 116.45 h-3.9 M5.9 100.09 h3.9 M747.2 100.09 h-3.9 M5.9 83.72 h3.9 M747.2 83.72 h-3.9 M5.9 67.36 h6.3 M747.2 67.36 h-6.3 M5.9 50.99 h3.9 M747.2 50.99 h-3.9 M5.9 34.63 h3.9 M747.2 34.63 h-3.9 M5.9 18.26 h3.9 M747.2 18.26 h-3.9"/>
</g>
<path d="M44.9 460.6 v-4.8 M83.9 460.6 v-4.8 M122.9 460.6 v-4.8 M161.9 460.6 v-7.2 M200.9 460.6 v-4.8 M239.9 460.6 v-4.8 M278.9 460.6 v-4.8 M317.9 460.6 v-7.2 M356.9 460.6 v-4.8 M395.9 460.6 v-4.8 M434.9 460.6 v-4.8 M473.9 460.6 v-7.2 M512.9 460.6 v-4.8 M551.9 460.6 v-4.8 M590.9 460.6 v-4.8 M629.9 460.6 v-7.2 M668.9 460.6 v-4.8 M707.9 460.6 v-4.8" stroke="#666666" stroke-width="1.1" fill="none" opacity="0.9"/>
<g class="t" font-family="Liberation Sans, sans-serif" font-size="21.3" fill="#646464" text-anchor="middle">
<text x="6" y="487.7">0</text>
<text x="162" y="487.7">20</text>
<text x="318" y="487.7">40</text>
<text x="474" y="487.7">60</text>
<text x="630" y="487.7">80</text>
</g>
<g class="t" font-family="Liberation Serif, serif" font-size="25.3" fill="#686868">
<text transform="translate(306.3 513) scale(1.2 1)" font-style="italic">ω</text>
<text transform="translate(334.4 513) scale(1.04 1)">(meV)</text>
</g>
<rect x="426.6" y="24.9" width="302.5" height="186.2" fill="#ffffff"/>
<g clip-path="url(#ci)" fill="none" stroke="#000000" stroke-width="3.6" stroke-linejoin="round">
<path d="M424.6 211.3 L426.6 211.3 L428.6 211.3 L430.6 211.3 L432.6 211.3 L434.6 211.3 L436.6 211.3 L438.6 211.3 L440.6 211.3 L442.6 211.3 L444.6 211.3 L446.6 211.3 L448.6 211.29 L450.6 211.29 L452.6 211.29 L454.6 211.29 L456.6 211.29 L458.6 211.28 L460.6 211.27 L462.6 211.26 L464.6 211.24 L465.9 211.21 L466.15 211.2 L466.4 211.19 L466.65 211.18 L466.9 211.17 L467.15 211.16 L467.4 211.14 L467.65 211.12 L467.9 211.1 L468.15 211.07 L468.4 211.04 L468.65 211 L468.9 210.94 L469.15 210.88 L469.4 210.79 L469.65 210.67 L469.9 210.5 L470.15 210.26 L470.4 209.88 L470.65 209.25 L470.9 208.1 L470.92 207.97 L470.94 207.83 L470.96 207.68 L470.98 207.52 L471 207.35 L471.02 207.17 L471.04 206.98 L471.06 206.77 L471.08 206.54 L471.1 206.3 L471.12 206.04 L471.14 205.76 L471.16 205.46 L471.18 205.13 L471.2 204.77 L471.22 204.39 L471.24 203.96 L471.26 203.5 L471.28 202.98 L471.3 202.42 L471.32 201.8 L471.34 201.11 L471.36 200.34 L471.38 199.48 L471.4 198.52 L471.42 197.44 L471.44 196.21 L471.46 194.81 L471.48 193.2 L471.5 191.35 L471.52 189.2 L471.54 186.68 L471.56 183.71 L471.58 180.17 L471.6 175.9 L471.62 170.69 L471.64 164.24 L471.66 156.13 L471.68 145.73 L471.7 132.09 L471.72 113.74 L471.74 88.22 L471.76 51.3 L471.78 -4.92 L471.8 -10 L471.82 -10 L471.84 -10 L471.86 -10 L471.88 -10 L471.9 -10 L471.92 -10 L471.94 -10 L471.96 -10 L471.98 -10 L472 -10 L472.02 -4.92 L472.04 51.3 L472.06 88.22 L472.08 113.74 L472.1 132.09 L472.12 145.73 L472.14 156.13 L472.16 164.24 L472.18 170.69 L472.2 175.9 L472.22 180.17 L472.24 183.71 L472.26 186.68 L472.28 189.2 L472.3 191.35 L472.32 193.2 L472.34 194.81 L472.36 196.21 L472.38 197.44 L472.4 198.52 L472.42 199.48 L472.44 200.34 L472.46 201.11 L472.48 201.8 L472.5 202.42 L472.52 202.98 L472.54 203.5 L472.56 203.96 L472.58 204.39 L472.6 204.77 L472.62 205.13 L472.64 205.46 L472.66 205.76 L472.68 206.04 L472.7 206.3 L472.72 206.54 L472.74 206.77 L472.76 206.98 L472.78 207.17 L472.8 207.35 L472.82 207.52 L472.84 207.68 L472.86 207.83 L472.88 207.97 L472.9 208.1 L473.15 209.25 L473.4 209.88 L473.65 210.26 L473.9 210.5 L474.15 210.67 L474.4 210.79 L474.65 210.88 L474.9 210.94 L475.15 211 L475.4 211.04 L475.65 211.07 L475.9 211.1 L476.15 211.12 L476.4 211.14 L476.65 211.16 L476.9 211.17 L477.15 211.18 L477.4 211.19 L477.65 211.2 L477.9 211.21 L479.9 211.25 L481.9 211.27 L483.9 211.28 L485.9 211.28 L487.9 211.29 L489.9 211.29 L491.9 211.29 L493.9 211.29 L495.9 211.29 L497.9 211.3 L499.9 211.3 L501.9 211.3 L503.9 211.3 L505.9 211.3 L507.9 211.3 L509.9 211.3 L511.9 211.3 L513.9 211.3 L515.9 211.3 L517.9 211.3 L519.9 211.3 L521.9 211.3 L523.2 211.3"/>
<path d="M523.3 211 L523.53 210.01 L523.86 209.06 L524.25 208.16 L524.78 207.28 L525.38 206.47 L526.03 205.72 L526.78 205.03 L527.59 204.44 L528.45 203.94 L529.37 203.5 L530.31 203.16 L531.26 202.88 L532.24 202.63 L533.22 202.41 L534.21 202.19 L535.18 201.95 L536.16 201.72 L537.14 201.49 L538.12 201.27 L539.09 201.04 L540.07 200.81 L541.04 200.57 L542.02 200.32 L542.99 200.06 L543.96 199.81 L544.93 199.55 L545.9 199.3 L546.87 199.04 L547.85 198.77 L548.82 198.5 L549.78 198.23 L550.75 197.96 L551.72 197.68 L552.68 197.39 L553.64 197.11 L554.6 196.81 L555.56 196.51 L556.51 196.2 L557.46 195.89 L558.41 195.57 L559.35 195.24 L560.3 194.91 L561.24 194.57 L562.19 194.22 L563.13 193.87 L564.08 193.5 L565.02 193.13 L565.95 192.76 L566.89 192.37 L567.82 191.97 L568.74 191.57 L569.66 191.15 L570.57 190.73 L571.47 190.3 L572.37 189.86 L573.25 189.4 L574.13 188.94 L574.99 188.46 L575.86 187.97 L576.73 187.45 L577.59 186.92 L578.44 186.37 L579.29 185.81 L580.13 185.23 L580.95 184.64 L581.77 184.03 L582.57 183.42 L583.35 182.79 L584.12 182.15 L584.86 181.5 L585.59 180.85 L586.31 180.17 L587.02 179.48 L587.72 178.76 L588.42 178.04 L589.1 177.29 L589.78 176.54 L590.45 175.77 L591.1 174.99 L591.75 174.2 L592.38 173.4 L593 172.59 L593.61 171.78 L594.2 170.96 L594.78 170.14 L595.34 169.31 L595.89 168.48 L596.42 167.65 L596.94 166.81 L597.45 165.96 L597.94 165.1 L598.43 164.23 L598.91 163.35 L599.38 162.46 L599.84 161.57 L600.29 160.67 L600.74 159.76 L601.18 158.85 L601.61 157.93 L602.03 157.01 L602.45 156.09 L602.87 155.17 L603.28 154.24 L603.68 153.32 L604.08 152.4 L604.48 151.47 L604.88 150.55 L605.27 149.63 L605.65 148.71 L606.02 147.77 L606.38 146.84 L606.74 145.9 L607.09 144.96 L607.43 144.02 L607.78 143.08 L608.11 142.13 L608.45 141.18 L608.79 140.24 L609.13 139.29 L609.47 138.34 L609.81 137.4 L610.15 136.45 L610.5 135.51 L610.85 134.57 L611.21 133.63 L611.58 132.7 L611.95 131.77 L612.31 130.83 L612.68 129.9 L613.05 128.96 L613.42 128.03 L613.79 127.09 L614.17 126.16 L614.55 125.23 L614.94 124.3 L615.33 123.38 L615.73 122.46 L616.14 121.55 L616.56 120.64 L616.99 119.73 L617.41 118.81 L617.84 117.88 L618.28 116.94 L618.73 116.02 L619.22 115.14 L619.75 114.31 L620.33 113.56 L621.02 112.78 L621.82 111.98 L622.67 111.33 L623.53 111.01 L624.4 111.14 L625.33 111.61 L626.23 112.28 L626.97 112.97 L627.55 113.64 L628.09 114.41 L628.58 115.24 L629.04 116.14 L629.47 117.08 L629.88 118.05 L630.26 119.05 L630.62 120.04 L630.98 121.03 L631.32 122 L631.66 122.94 L631.99 123.88 L632.3 124.83 L632.6 125.78 L632.89 126.73 L633.17 127.69 L633.44 128.66 L633.71 129.63 L633.97 130.6 L634.22 131.57 L634.47 132.55 L634.72 133.53 L634.97 134.5 L635.22 135.48 L635.47 136.46 L635.72 137.43 L635.98 138.41 L636.24 139.38 L636.51 140.35 L636.79 141.31 L637.07 142.28 L637.35 143.24 L637.64 144.2 L637.92 145.17 L638.2 146.13 L638.49 147.1 L638.77 148.06 L639.06 149.02 L639.36 149.98 L639.66 150.94 L639.96 151.9 L640.27 152.85 L640.58 153.8 L640.9 154.75 L641.23 155.7 L641.56 156.64 L641.9 157.59 L642.25 158.53 L642.6 159.47 L642.95 160.42 L643.31 161.36 L643.68 162.3 L644.05 163.24 L644.43 164.17 L644.82 165.1 L645.21 166.03 L645.61 166.95 L646.02 167.87 L646.43 168.78 L646.86 169.69 L647.29 170.58 L647.74 171.48 L648.19 172.36 L648.66 173.24 L649.14 174.12 L649.64 174.99 L650.16 175.86 L650.69 176.72 L651.22 177.58 L651.77 178.43 L652.33 179.27 L652.91 180.1 L653.48 180.91 L654.07 181.72 L654.67 182.52 L655.27 183.31 L655.89 184.1 L656.53 184.88 L657.17 185.66 L657.83 186.43 L658.5 187.19 L659.18 187.94 L659.87 188.68 L660.57 189.4 L661.28 190.11 L662 190.81 L662.73 191.49 L663.47 192.15 L664.22 192.81 L664.98 193.46 L665.75 194.12 L666.54 194.77 L667.34 195.4 L668.15 196.03 L668.97 196.64 L669.8 197.23 L670.64 197.79 L671.49 198.33 L672.35 198.84 L673.21 199.31 L674.09 199.75 L674.97 200.16 L675.87 200.55 L676.79 200.94 L677.72 201.31 L678.67 201.67 L679.62 202.02 L680.58 202.35 L681.55 202.67 L682.52 202.97 L683.5 203.25 L684.48 203.52 L685.46 203.77 L686.43 203.99 L687.41 204.2 L688.38 204.39 L689.36 204.58 L690.35 204.75 L691.33 204.92 L692.32 205.07 L693.32 205.22 L694.31 205.37 L695.31 205.5 L696.31 205.63 L697.31 205.76 L698.31 205.88 L699.31 206 L700.31 206.12 L701.31 206.23 L702.31 206.35 L703.31 206.46 L704.3 206.57 L705.3 206.67 L706.3 206.78 L707.3 206.88 L708.29 206.98 L709.29 207.08 L710.29 207.18 L711.29 207.27 L712.29 207.36 L713.29 207.45 L714.29 207.53 L715.29 207.61 L716.29 207.69 L717.3 207.76 L718.3 207.83 L719.3 207.9"/>
</g>
<g stroke="#666666" stroke-width="1" fill="none">
<rect x="426.6" y="24.9" width="302.5" height="186.2"/>
<path d="M436.75 24.9 v2 M436.75 211.1 v-2 M446.9 24.9 v2 M446.9 211.1 v-2 M457.05 24.9 v2 M457.05 211.1 v-2 M467.2 24.9 v2 M467.2 211.1 v-2 M477.35 24.9 v3.4 M477.35 211.1 v-3.4 M487.5 24.9 v2 M487.5 211.1 v-2 M497.65 24.9 v2 M497.65 211.1 v-2 M507.8 24.9 v2 M507.8 211.1 v-2 M517.95 24.9 v2 M517.95 211.1 v-2 M528.1 24.9 v3.4 M528.1 211.1 v-3.4 M538.25 24.9 v2 M538.25 211.1 v-2 M548.4 24.9 v2 M548.4 211.1 v-2 M558.55 24.9 v2 M558.55 211.1 v-2 M568.7 24.9 v2 M568.7 211.1 v-2 M578.85 24.9 v3.4 M578.85 211.1 v-3.4 M589 24.9 v2 M589 211.1 v-2 M599.15 24.9 v2 M599.15 211.1 v-2 M609.3 24.9 v2 M609.3 211.1 v-2 M619.45 24.9 v2 M619.45 211.1 v-2 M629.6 24.9 v3.4 M629.6 211.1 v-3.4 M639.75 24.9 v2 M639.75 211.1 v-2 M649.9 24.9 v2 M649.9 211.1 v-2 M660.05 24.9 v2 M660.05 211.1 v-2 M670.2 24.9 v2 M670.2 211.1 v-2 M680.35 24.9 v3.4 M680.35 211.1 v-3.4 M690.5 24.9 v2 M690.5 211.1 v-2 M700.65 24.9 v2 M700.65 211.1 v-2 M710.8 24.9 v2 M710.8 211.1 v-2 M720.95 24.9 v2 M720.95 211.1 v-2 M426.6 204.46 h2 M729.1 204.46 h-2 M426.6 197.82 h2 M729.1 197.82 h-2 M426.6 191.18 h2 M729.1 191.18 h-2 M426.6 184.54 h3.4 M729.1 184.54 h-3.4 M426.6 177.9 h2 M729.1 177.9 h-2 M426.6 171.26 h2 M729.1 171.26 h-2 M426.6 164.62 h2 M729.1 164.62 h-2 M426.6 157.98 h3.4 M729.1 157.98 h-3.4 M426.6 151.34 h2 M729.1 151.34 h-2 M426.6 144.7 h2 M729.1 144.7 h-2 M426.6 138.06 h2 M729.1 138.06 h-2 M426.6 131.42 h3.4 M729.1 131.42 h-3.4 M426.6 124.78 h2 M729.1 124.78 h-2 M426.6 118.14 h2 M729.1 118.14 h-2 M426.6 111.5 h2 M729.1 111.5 h-2 M426.6 104.86 h3.4 M729.1 104.86 h-3.4 M426.6 98.22 h2 M729.1 98.22 h-2 M426.6 91.58 h2 M729.1 91.58 h-2 M426.6 84.94 h2 M729.1 84.94 h-2 M426.6 78.3 h3.4 M729.1 78.3 h-3.4 M426.6 71.66 h2 M729.1 71.66 h-2 M426.6 65.02 h2 M729.1 65.02 h-2 M426.6 58.38 h2 M729.1 58.38 h-2 M426.6 51.74 h3.4 M729.1 51.74 h-3.4 M426.6 45.1 h2 M729.1 45.1 h-2 M426.6 38.46 h2 M729.1 38.46 h-2 M426.6 31.82 h2 M729.1 31.82 h-2"/>
</g>
<g class="t" font-family="Liberation Sans, sans-serif" font-size="14.0" fill="#646464" text-anchor="middle">
<text x="425.4" y="226.55">0</text>
<text x="477.75" y="226.55">10</text>
<text x="528.5" y="226.55">20</text>
<text x="579.25" y="226.55">30</text>
<text x="630.6" y="226.55">40</text>
<text x="681.35" y="226.55">50</text>
</g>
<g class="t" font-family="Liberation Serif, serif" font-size="15.7" fill="#686868">
<text transform="translate(558.7 244.3) scale(1.11 1)" font-style="italic">ω</text>
<text transform="translate(573.8 244.3) scale(1.04 1)">(meV)</text>
</g>
<g class="t" font-family="Liberation Sans, sans-serif" font-size="23.5" fill="#000000">
<text transform="translate(154.9 290.8) scale(0.985 1)">49.5</text>
<text transform="translate(159.3 340.3) scale(0.985 1)">45</text>
<text transform="translate(166.2 385.3) scale(0.985 1)">40</text>
</g>
<path d="M149.8 286.1 L111.22 314.23" stroke="#000" stroke-width="1.65" fill="none"/><path d="M102.33 320.71 L110.27 310.21 L111.22 314.23 L114.75 316.35 Z" fill="#000"/>
<path d="M198.5 294 L222.08 338.06" stroke="#000" stroke-width="1.65" fill="none"/><path d="M227.27 347.76 L217.97 338.44 L222.08 338.06 L224.67 334.86 Z" fill="#000"/>
<path d="M152.7 335.5 L130.32 350.61" stroke="#000" stroke-width="1.65" fill="none"/><path d="M121.21 356.77 L129.52 346.57 L130.32 350.61 L133.77 352.87 Z" fill="#000"/>
<path d="M188.2 337.7 L225.68 388.42" stroke="#000" stroke-width="1.65" fill="none"/><path d="M232.21 397.27 L221.67 389.39 L225.68 388.42 L227.78 384.87 Z" fill="#000"/>
<path d="M163 384.4 L144.99 400.56" stroke="#000" stroke-width="1.65" fill="none"/><path d="M136.81 407.9 L143.65 396.66 L144.99 400.56 L148.72 402.32 Z" fill="#000"/>
<path d="M194.4 386.1 L235.77 435.02" stroke="#000" stroke-width="1.65" fill="none"/><path d="M242.87 443.42 L231.84 436.25 L235.77 435.02 L237.64 431.34 Z" fill="#000"/>
</svg>
</div>
</body></html>
